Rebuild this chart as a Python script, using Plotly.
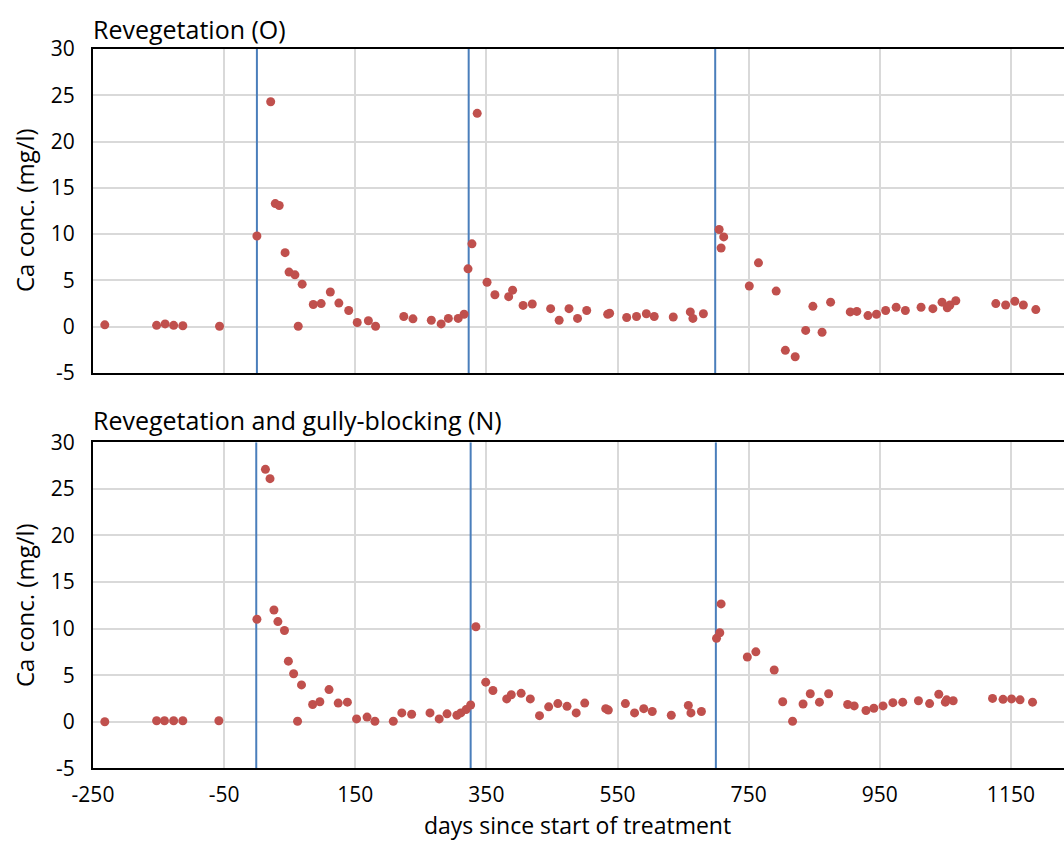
import plotly.graph_objects as go

# ---- data ----
o_days = [-232, -153, -140, -127, -113, -57, 0, 21, 28, 34, 43, 49, 58, 63, 69, 86, 98, 112, 125, 140,
          153, 170, 181, 224, 238, 266, 281, 292, 307, 316, 322, 328, 336, 351, 363, 384, 390, 406, 420, 448,
          461, 476, 489, 503, 535, 538, 564, 579, 594, 606, 635, 661, 665, 681, 705, 708, 712, 751, 765, 792,
          806, 821, 837, 848, 862, 875, 905, 915, 932, 945, 959, 975, 989, 1013, 1031, 1045, 1053, 1057, 1066,
          1127, 1142, 1156, 1169, 1188]
o_ca = [0.2, 0.15, 0.3, 0.15, 0.1, 0.05, 9.8, 24.3, 13.3, 13.1, 8.0, 5.9, 5.6, 0.05, 4.6, 2.4, 2.5, 3.75, 2.55, 1.75,
        0.45, 0.65, 0.05, 1.1, 0.85, 0.7, 0.3, 0.9, 0.9, 1.35, 6.25, 8.95, 23.05, 4.8, 3.45, 3.25, 3.95, 2.3, 2.45, 1.95,
        0.7, 1.95, 0.9, 1.75, 1.35, 1.45, 1.0, 1.1, 1.4, 1.1, 1.05, 1.6, 0.9, 1.4, 10.5, 8.5, 9.7, 4.4, 6.9, 3.85,
        -2.55, -3.25, -0.4, 2.2, -0.6, 2.65, 1.6, 1.65, 1.2, 1.35, 1.75, 2.1, 1.75, 2.1, 1.95, 2.65, 2.05, 2.35, 2.8,
        2.5, 2.35, 2.75, 2.35, 1.85]

n_days = [-232, -153, -141, -127, -113, -58, 0, 13, 20, 26, 32, 42, 48, 56, 62, 68, 85, 96, 110, 124,
          138, 152, 168, 180, 208, 221, 236, 264, 278, 290, 305, 311, 319, 326, 334, 349, 360, 381, 388, 403,
          417, 431, 445, 459, 473, 487, 500, 532, 536, 562, 576, 590, 603, 632, 658, 662, 678, 701, 706, 708,
          748, 761, 789, 802, 817, 833, 844, 858, 872, 901, 911, 929, 941, 955, 970, 985, 1009, 1026, 1040, 1050,
          1052, 1062, 1122, 1138, 1151, 1164, 1183]
n_ca = [0.0, 0.1, 0.1, 0.1, 0.1, 0.1, 11.0, 27.1, 26.1, 12.0, 10.75, 9.8, 6.5, 5.15, 0.05, 3.95, 1.85, 2.15, 3.45, 2.0,
        2.1, 0.3, 0.5, 0.05, 0.05, 0.95, 0.8, 0.95, 0.3, 0.85, 0.7, 0.95, 1.3, 1.8, 10.2, 4.25, 3.35, 2.45, 2.9, 3.05,
        2.45, 0.65, 1.6, 1.95, 1.65, 0.95, 2.0, 1.4, 1.25, 1.95, 0.95, 1.4, 1.1, 0.7, 1.75, 0.95, 1.1, 8.95, 9.55, 12.65,
        6.95, 7.5, 5.55, 2.15, 0.05, 1.9, 3.0, 2.1, 3.0, 1.85, 1.7, 1.2, 1.45, 1.7, 2.05, 2.1, 2.25, 1.95, 2.95, 2.1,
        2.35, 2.25, 2.5, 2.4, 2.45, 2.35, 2.1]

treatment_days_o = [0, 323, 699]
treatment_days_n = [-1, 326, 700]

x_ticks = [-250, -50, 150, 350, 550, 750, 950, 1150]
y_ticks = [-5, 0, 5, 10, 15, 20, 25, 30]

title_o = "Revegetation (O)"
title_n = "Revegetation and gully-blocking (N)"
y_title = "Ca conc. (mg/l)"
x_title = "days since start of treatment"

# ---- figure ----
W, H = 1064, 841
FONT = "Open Sans, sans-serif"
MARKER = "#C0504D"
VLINE = "#4A7EBB"
GRID = "#D9D9D9"
y_lo, y_hi = min(y_ticks), max(y_ticks)


def py(v):
    return 1 - v / H


fig = go.Figure()
for days, xa, ya in ((treatment_days_o, "x2", "y2"), (treatment_days_n, "x", "y")):
    for d in days:
        fig.add_trace(go.Scatter(x=[d, d], y=[y_lo, y_hi], mode="lines", xaxis=xa, yaxis=ya,
                                 line=dict(color=VLINE, width=2), hoverinfo="skip", showlegend=False))

fig.add_trace(go.Scatter(x=o_days, y=o_ca, mode="markers", xaxis="x2", yaxis="y2",
                         marker=dict(color=MARKER, size=9, line=dict(width=0)), showlegend=False))
fig.add_trace(go.Scatter(x=n_days, y=n_ca, mode="markers", xaxis="x", yaxis="y",
                         marker=dict(color=MARKER, size=9, line=dict(width=0)), showlegend=False))

xcommon = dict(range=[-250, 1231], tickvals=x_ticks, ticktext=[str(v) for v in x_ticks],
               showgrid=True, gridcolor=GRID, gridwidth=2,
               showline=True, linecolor="black", linewidth=2, mirror=True, zeroline=False,
               ticks="", domain=[93 / W, 1], automargin=False)
ycommon = dict(range=[y_lo, y_hi], tickvals=y_ticks, ticktext=[str(v) for v in y_ticks],
               showgrid=True, gridcolor=GRID, gridwidth=2,
               showline=True, linecolor="black", linewidth=2, mirror=False, zeroline=False,
               ticks="", automargin=False,
               tickfont=dict(family=FONT, size=21, color="black"), ticklabelstandoff=12)

fig.update_layout(
    width=W, height=H,
    margin=dict(l=0, r=0, t=0, b=0),
    paper_bgcolor="white", plot_bgcolor="white",
    font=dict(family=FONT, color="black"),
    xaxis=dict(anchor="y", tickfont=dict(family=FONT, size=21, color="black"), ticklabelstandoff=6, **xcommon),
    xaxis2=dict(anchor="y2", matches="x", showticklabels=False, **xcommon),
    yaxis=dict(anchor="x", domain=[py(768.3), py(442.3)], **ycommon),
    yaxis2=dict(anchor="x2", domain=[py(373), py(49)], **ycommon),
    showlegend=False,
)

ann = [
    dict(text=title_o, x=91 / W, y=py(29), xanchor="left", yanchor="middle", font=dict(size=25)),
    dict(text=title_n, x=91 / W, y=py(420), xanchor="left", yanchor="middle", font=dict(size=25)),
    dict(text=y_title, x=24 / W, y=py(210), xanchor="center", yanchor="middle", textangle=-90, font=dict(size=24)),
    dict(text=y_title, x=24 / W, y=py(605), xanchor="center", yanchor="middle", textangle=-90, font=dict(size=24)),
    dict(text=x_title, x=577 / W, y=py(825), xanchor="center", yanchor="middle", font=dict(size=23)),
]
for a in ann:
    fig.add_annotation(xref="paper", yref="paper", showarrow=False, **a)

fig.write_html("out.html")
